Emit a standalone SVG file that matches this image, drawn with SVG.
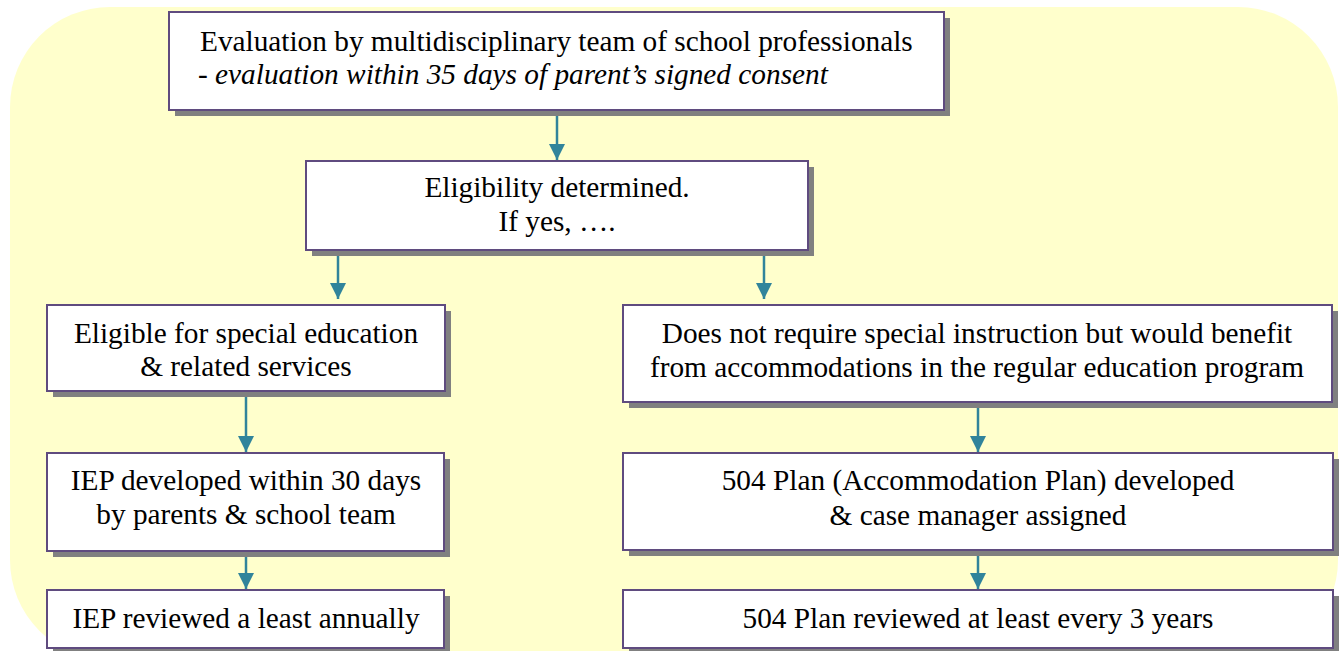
<svg xmlns="http://www.w3.org/2000/svg" width="1340" height="651" viewBox="0 0 1340 651">
<defs>
<style>
.box{fill:#FFFFFF;stroke:#5F4B7F;stroke-width:2}
.sh{fill:#808080}
.t{font-family:"Liberation Serif","Times New Roman",serif;font-size:29.3px;fill:#000}
.c{text-anchor:middle}
.con{stroke:#31849B;stroke-width:2.5;fill:none;marker-end:url(#ah)}
</style>
<marker id="ah" viewBox="0 0 10 10" refX="10" refY="5" markerWidth="6.4" markerHeight="6.4" orient="auto" markerUnits="strokeWidth">
<path d="M0,0 L10,5 L0,10 z" fill="#31849B"/>
</marker>
</defs>
<rect width="1340" height="651" fill="#FFFFFF"/>
<rect x="10" y="7" width="1328" height="653" rx="100" ry="100" fill="#FFFFCC"/>
<g id="connectors">
<line class="con" x1="557" y1="111" x2="557" y2="160"/>
<line class="con" x1="338" y1="251" x2="338" y2="299"/>
<line class="con" x1="764" y1="251" x2="764" y2="299"/>
<line class="con" x1="246" y1="392" x2="246" y2="452"/>
<line class="con" x1="978" y1="403" x2="978" y2="452"/>
<line class="con" x1="246" y1="552" x2="246" y2="589"/>
<line class="con" x1="978" y1="551" x2="978" y2="589"/>
</g>
<g id="n1">
<rect class="sh" x="175" y="18" width="775" height="98"/>
<rect class="box" x="169" y="12" width="775" height="98"/>
<text class="t" x="200" y="51">Evaluation by multidisciplinary team of school professionals</text>
<text class="t" x="198" y="84">- <tspan font-style="italic">evaluation within 35 days of parent’s signed consent</tspan></text>
</g>
<g id="n2">
<rect class="sh" x="312" y="167" width="502" height="89"/>
<rect class="box" x="306" y="161" width="502" height="89"/>
<text class="t c" x="557" y="197">Eligibility determined.</text>
<text class="t c" x="557" y="231">If yes, ….</text>
</g>
<g id="n3">
<rect class="sh" x="53" y="311" width="398" height="86"/>
<rect class="box" x="47" y="305" width="398" height="86"/>
<text class="t c" x="246" y="343">Eligible for special education</text>
<text class="t c" x="246" y="376">&amp; related services</text>
</g>
<g id="n4">
<rect class="sh" x="629" y="311" width="709" height="97"/>
<rect class="box" x="623" y="305" width="709" height="97"/>
<text class="t c" x="977" y="343">Does not require special instruction but would benefit</text>
<text class="t c" x="977" y="377">from accommodations in the regular education program</text>
</g>
<g id="n5">
<rect class="sh" x="53" y="459" width="397" height="98"/>
<rect class="box" x="47" y="453" width="397" height="98"/>
<text class="t c" x="246" y="490">IEP developed within 30 days</text>
<text class="t c" x="246" y="524">by parents &amp; school team</text>
</g>
<g id="n6">
<rect class="sh" x="629" y="459" width="710" height="97"/>
<rect class="box" x="623" y="453" width="710" height="97"/>
<text class="t c" x="978" y="490">504 Plan (Accommodation Plan) developed</text>
<text class="t c" x="978" y="525">&amp; case manager assigned</text>
</g>
<g id="n7">
<rect class="sh" x="53" y="596" width="397" height="58"/>
<rect class="box" x="47" y="590" width="397" height="58"/>
<text class="t c" x="246" y="628">IEP reviewed a least annually</text>
</g>
<g id="n8">
<rect class="sh" x="629" y="596" width="710" height="58"/>
<rect class="box" x="623" y="590" width="710" height="58"/>
<text class="t c" x="978" y="628">504 Plan reviewed at least every 3 years</text>
</g>
</svg>
